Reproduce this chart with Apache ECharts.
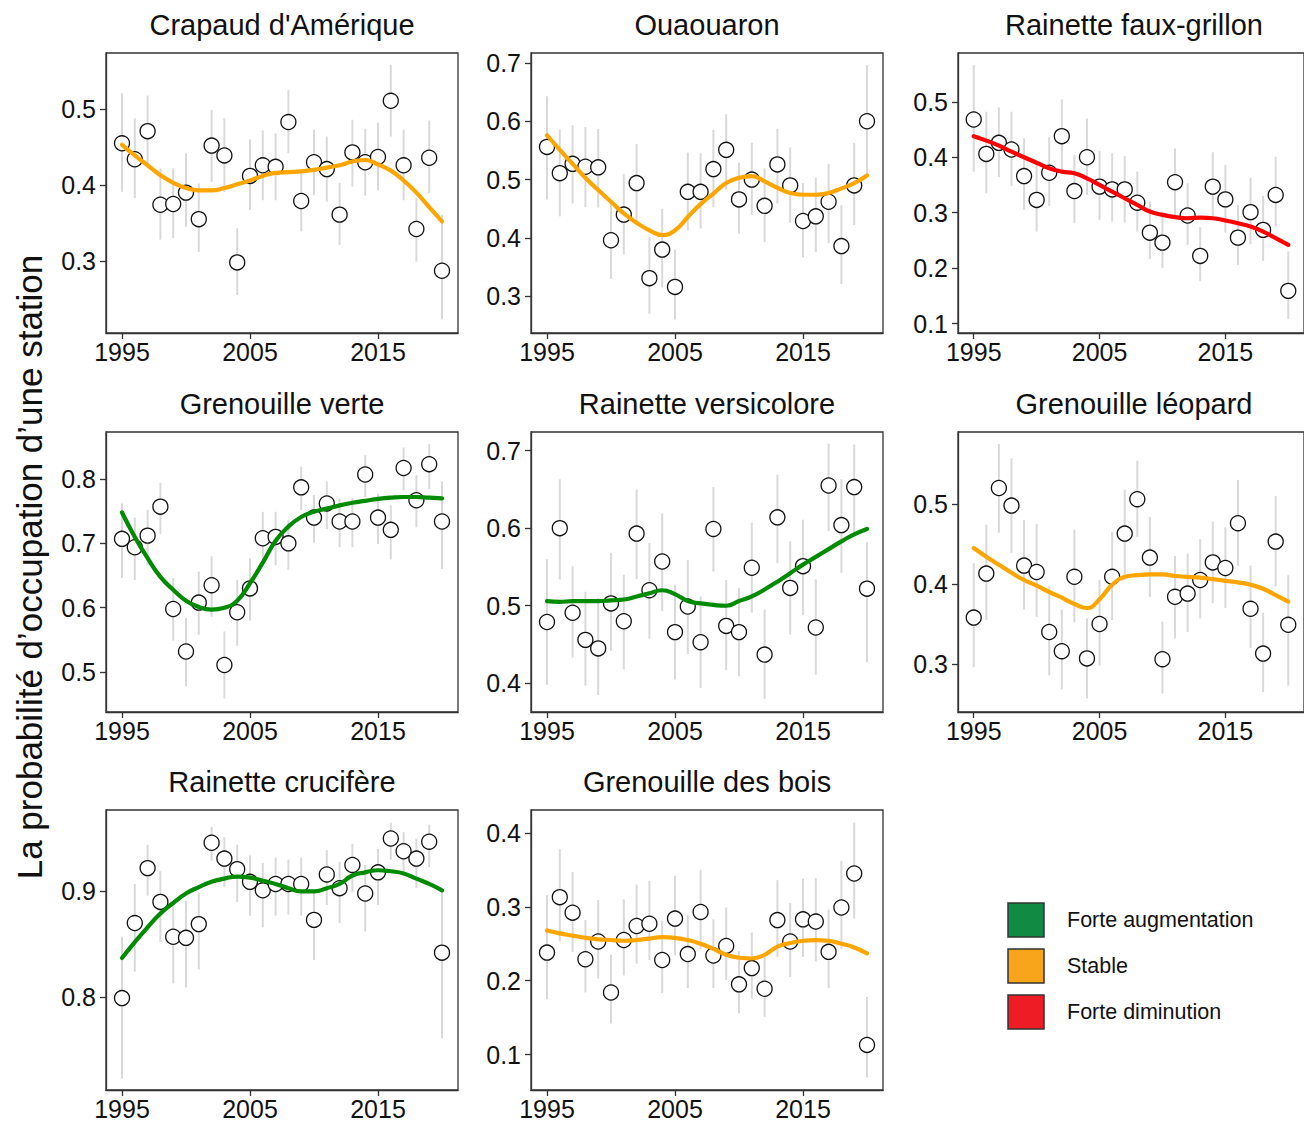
<!DOCTYPE html>
<html>
<head>
<meta charset="utf-8">
<script src="https://cdn.jsdelivr.net/npm/echarts@6/dist/echarts.min.js"></script>
<style>
html,body{margin:0;padding:0;background:#fff;}
#chart{width:1304px;height:1124px;}
</style>
</head>
<body>
<div id="chart"></div>
<script>
// ---------- DATA ----------
const years = [1995,1996,1997,1998,1999,2000,2001,2002,2003,2004,2005,2006,2007,2008,2009,2010,2011,2012,2013,2014,2015,2016,2017,2018,2019,2020];
const xTicks = [1995, 2005, 2015];

const legendLabels = ["Forte augmentation", "Stable", "Forte diminution"];

// Crapaud d'Amérique
const crapaudPts = [0.455,0.434,0.471,0.374,0.375,0.390,0.355,0.452,0.439,0.298,0.412,0.426,0.424,0.483,0.379,0.430,0.421,0.361,0.443,0.430,0.437,0.511,0.426,0.342,0.436,0.287];
const crapaudLo  = [0.391,0.383,0.424,0.328,0.330,0.345,0.312,0.404,0.391,0.255,0.367,0.380,0.380,0.442,0.339,0.387,0.378,0.321,0.398,0.386,0.393,0.464,0.380,0.299,0.389,0.223];
const crapaudHi  = [0.521,0.488,0.518,0.422,0.422,0.442,0.402,0.499,0.488,0.343,0.460,0.472,0.468,0.525,0.420,0.473,0.464,0.403,0.486,0.474,0.482,0.558,0.473,0.383,0.485,0.361];
const crapaudFit = [0.453,0.439,0.426,0.413,0.403,0.396,0.393,0.393,0.396,0.401,0.406,0.412,0.416,0.417,0.418,0.420,0.423,0.426,0.431,0.433,0.427,0.419,0.406,0.390,0.371,0.352];

// Ouaouaron
const ouaouaronPts = [0.556,0.511,0.527,0.522,0.521,0.396,0.440,0.494,0.331,0.380,0.316,0.479,0.479,0.518,0.551,0.466,0.500,0.455,0.526,0.490,0.429,0.437,0.462,0.386,0.490,0.600];
const ouaouaronLo  = [0.466,0.437,0.459,0.453,0.452,0.330,0.372,0.429,0.270,0.315,0.260,0.413,0.416,0.453,0.483,0.407,0.439,0.393,0.459,0.426,0.367,0.376,0.391,0.321,0.422,0.506];
const ouaouaronHi  = [0.643,0.586,0.593,0.590,0.587,0.465,0.510,0.561,0.402,0.450,0.380,0.546,0.545,0.585,0.612,0.529,0.563,0.519,0.587,0.555,0.494,0.503,0.527,0.456,0.563,0.696];
const ouaouaronFit = [0.576,0.551,0.527,0.503,0.482,0.462,0.442,0.426,0.413,0.405,0.413,0.436,0.458,0.476,0.494,0.503,0.506,0.497,0.486,0.477,0.474,0.474,0.477,0.485,0.494,0.507];

// Rainette faux-grillon
const fauxGrillonPts = [0.468,0.406,0.426,0.414,0.366,0.323,0.372,0.438,0.339,0.400,0.347,0.342,0.342,0.318,0.264,0.246,0.355,0.295,0.222,0.347,0.324,0.255,0.301,0.269,0.332,0.159];
const fauxGrillonLo  = [0.374,0.335,0.364,0.348,0.305,0.266,0.312,0.371,0.281,0.332,0.287,0.284,0.282,0.266,0.216,0.200,0.293,0.242,0.177,0.287,0.264,0.206,0.243,0.213,0.275,0.108];
const fauxGrillonHi  = [0.566,0.482,0.490,0.482,0.434,0.389,0.437,0.504,0.404,0.470,0.411,0.407,0.402,0.374,0.320,0.302,0.416,0.353,0.274,0.409,0.386,0.314,0.363,0.330,0.401,0.230];
const fauxGrillonFit = [0.438,0.430,0.421,0.410,0.400,0.390,0.380,0.374,0.371,0.362,0.350,0.338,0.326,0.314,0.302,0.296,0.292,0.290,0.291,0.290,0.286,0.281,0.275,0.266,0.254,0.242];

// Grenouille verte
const vertePts = [0.707,0.694,0.712,0.757,0.598,0.532,0.608,0.635,0.511,0.593,0.630,0.708,0.710,0.700,0.787,0.740,0.762,0.734,0.734,0.807,0.740,0.721,0.817,0.767,0.823,0.734];
const verteLo  = [0.646,0.643,0.666,0.714,0.549,0.478,0.558,0.586,0.459,0.541,0.580,0.672,0.666,0.659,0.752,0.701,0.722,0.694,0.694,0.772,0.699,0.675,0.782,0.725,0.784,0.660];
const verteHi  = [0.762,0.740,0.752,0.794,0.646,0.584,0.656,0.680,0.563,0.643,0.677,0.749,0.749,0.736,0.819,0.775,0.796,0.770,0.770,0.837,0.777,0.759,0.849,0.806,0.854,0.796];
const verteFit = [0.748,0.710,0.677,0.648,0.628,0.611,0.601,0.597,0.600,0.611,0.638,0.670,0.704,0.726,0.741,0.749,0.754,0.759,0.763,0.766,0.769,0.771,0.772,0.772,0.771,0.770];

// Rainette versicolore
const versicolorePts = [0.479,0.600,0.491,0.456,0.445,0.503,0.480,0.593,0.520,0.557,0.466,0.499,0.453,0.599,0.474,0.466,0.549,0.437,0.614,0.523,0.551,0.472,0.655,0.604,0.653,0.522];
const versicoloreLo  = [0.398,0.534,0.433,0.397,0.385,0.442,0.418,0.534,0.458,0.493,0.405,0.438,0.394,0.544,0.417,0.409,0.491,0.380,0.555,0.463,0.488,0.411,0.596,0.542,0.590,0.427];
const versicoloreHi  = [0.560,0.663,0.551,0.518,0.510,0.568,0.540,0.650,0.581,0.619,0.527,0.559,0.512,0.653,0.533,0.523,0.607,0.495,0.669,0.583,0.611,0.534,0.709,0.663,0.708,0.582];
const versicoloreFit = [0.506,0.505,0.506,0.506,0.506,0.507,0.508,0.512,0.516,0.520,0.515,0.506,0.503,0.501,0.500,0.506,0.512,0.521,0.531,0.542,0.553,0.563,0.573,0.583,0.592,0.599];

// Grenouille léopard
const leopardPts = [0.358,0.413,0.520,0.498,0.423,0.415,0.340,0.316,0.409,0.307,0.350,0.409,0.463,0.506,0.433,0.306,0.384,0.388,0.405,0.427,0.420,0.476,0.369,0.313,0.453,0.349];
const leopardLo  = [0.296,0.355,0.464,0.439,0.368,0.359,0.286,0.268,0.352,0.257,0.298,0.355,0.405,0.459,0.384,0.263,0.332,0.340,0.357,0.376,0.370,0.423,0.320,0.265,0.397,0.273];
const leopardHi  = [0.426,0.474,0.575,0.557,0.480,0.475,0.397,0.368,0.468,0.357,0.405,0.465,0.518,0.554,0.484,0.353,0.435,0.438,0.456,0.478,0.471,0.530,0.423,0.364,0.510,0.411];
const leopardFit = [0.445,0.434,0.424,0.414,0.405,0.398,0.390,0.383,0.375,0.370,0.381,0.399,0.409,0.411,0.412,0.412,0.410,0.409,0.408,0.406,0.404,0.402,0.399,0.394,0.386,0.378];

// Rainette crucifère
const cruciferePts = [0.799,0.870,0.922,0.890,0.857,0.856,0.869,0.946,0.931,0.921,0.909,0.901,0.907,0.907,0.907,0.873,0.916,0.903,0.925,0.898,0.918,0.950,0.938,0.931,0.947,0.842];
const crucifereLo  = [0.723,0.824,0.896,0.852,0.813,0.809,0.826,0.929,0.904,0.890,0.877,0.866,0.877,0.878,0.877,0.835,0.887,0.870,0.899,0.862,0.887,0.930,0.917,0.903,0.923,0.761];
const crucifereHi  = [0.857,0.907,0.944,0.919,0.890,0.891,0.899,0.961,0.951,0.944,0.934,0.927,0.932,0.930,0.932,0.899,0.939,0.928,0.945,0.925,0.940,0.965,0.956,0.950,0.963,0.901];
const crucifereFit = [0.837,0.852,0.866,0.879,0.889,0.898,0.904,0.909,0.912,0.914,0.913,0.910,0.907,0.903,0.900,0.900,0.903,0.907,0.915,0.918,0.920,0.919,0.917,0.912,0.907,0.901];

// Grenouille des bois
const boisPts = [0.238,0.313,0.292,0.229,0.253,0.184,0.255,0.274,0.277,0.228,0.284,0.236,0.293,0.234,0.247,0.195,0.217,0.189,0.282,0.253,0.283,0.280,0.239,0.299,0.345,0.113];
const boisLo  = [0.175,0.253,0.239,0.184,0.203,0.142,0.207,0.223,0.228,0.183,0.234,0.190,0.243,0.190,0.201,0.156,0.176,0.151,0.232,0.205,0.232,0.226,0.190,0.243,0.284,0.069];
const boisHi  = [0.316,0.378,0.347,0.282,0.309,0.235,0.310,0.330,0.335,0.281,0.342,0.289,0.350,0.283,0.299,0.240,0.265,0.232,0.336,0.305,0.338,0.339,0.296,0.362,0.414,0.178];
const boisFit = [0.268,0.264,0.261,0.258,0.256,0.255,0.254,0.255,0.257,0.259,0.258,0.255,0.250,0.243,0.235,0.231,0.230,0.235,0.246,0.251,0.254,0.255,0.254,0.250,0.245,0.237];

// y-axis ranges and ticks per panel
const crapaudRange = [0.205, 0.574],  crapaudTicks = [0.3, 0.4, 0.5];
const ouaouaronRange = [0.237, 0.717], ouaouaronTicks = [0.3, 0.4, 0.5, 0.6, 0.7];
const fauxGrillonRange = [0.083, 0.588], fauxGrillonTicks = [0.1, 0.2, 0.3, 0.4, 0.5];
const verteRange = [0.438, 0.873], verteTicks = [0.5, 0.6, 0.7, 0.8];
const versicoloreRange = [0.363, 0.724], versicoloreTicks = [0.4, 0.5, 0.6, 0.7];
const leopardRange = [0.240, 0.590], leopardTicks = [0.3, 0.4, 0.5];
const crucifereRange = [0.712, 0.977], crucifereTicks = [0.8, 0.9];
const boisRange = [0.052, 0.431], boisTicks = [0.1, 0.2, 0.3, 0.4];

// ---------- STYLE ----------
const LINE_COL = { up: '#008B00', stable: '#FFA500', down: '#FF0000' };
const LEGEND_COL = ['#118A43', '#F8A51C', '#EE1C24'];
const FONT = "'Liberation Sans', Arial, Helvetica, sans-serif";
const TXT = '#111111';

const panels = [
  { title: "Crapaud d'Amérique", pts: crapaudPts, lo: crapaudLo, hi: crapaudHi, fit: crapaudFit, col: LINE_COL.stable, range: crapaudRange, ticks: crapaudTicks },
  { title: "Ouaouaron", pts: ouaouaronPts, lo: ouaouaronLo, hi: ouaouaronHi, fit: ouaouaronFit, col: LINE_COL.stable, range: ouaouaronRange, ticks: ouaouaronTicks },
  { title: "Rainette faux-grillon", pts: fauxGrillonPts, lo: fauxGrillonLo, hi: fauxGrillonHi, fit: fauxGrillonFit, col: LINE_COL.down, range: fauxGrillonRange, ticks: fauxGrillonTicks },
  { title: "Grenouille verte", pts: vertePts, lo: verteLo, hi: verteHi, fit: verteFit, col: LINE_COL.up, range: verteRange, ticks: verteTicks },
  { title: "Rainette versicolore", pts: versicolorePts, lo: versicoloreLo, hi: versicoloreHi, fit: versicoloreFit, col: LINE_COL.up, range: versicoloreRange, ticks: versicoloreTicks },
  { title: "Grenouille léopard", pts: leopardPts, lo: leopardLo, hi: leopardHi, fit: leopardFit, col: LINE_COL.stable, range: leopardRange, ticks: leopardTicks },
  { title: "Rainette crucifère", pts: cruciferePts, lo: crucifereLo, hi: crucifereHi, fit: crucifereFit, col: LINE_COL.up, range: crucifereRange, ticks: crucifereTicks },
  { title: "Grenouille des bois", pts: boisPts, lo: boisLo, hi: boisHi, fit: boisFit, col: LINE_COL.stable, range: boisRange, ticks: boisTicks }
];

const colLeft = [106, 531, 958];
const rowTop = [53, 432, 810];
const W = 352, H = 280;

const grids = [], xAxes = [], yAxes = [], series = [], graphics = [];

panels.forEach((p, i) => {
  const c = i % 3, r = Math.floor(i / 3);
  grids.push({ left: colLeft[c], top: rowTop[r], width: W, height: H, show: true,
    borderColor: '#333', borderWidth: 1.3, backgroundColor: 'transparent', containLabel: false });
  xAxes.push({
    gridIndex: i, type: 'value', min: 1993.75, max: 2021.25,
    axisLine: { show: true, onZero: false, lineStyle: { color: '#333', width: 1.3 } },
    axisTick: { show: true, length: 6, customValues: xTicks, lineStyle: { color: '#333', width: 1.3 } },
    axisLabel: { customValues: xTicks, fontSize: 25, fontFamily: FONT, color: TXT, margin: 6,
      formatter: v => String(Math.round(v)) },
    splitLine: { show: false }
  });
  yAxes.push({
    gridIndex: i, type: 'value', min: p.range[0], max: p.range[1],
    axisLine: { show: true, onZero: false, lineStyle: { color: '#333', width: 1.3 } },
    axisTick: { show: true, length: 6, customValues: p.ticks, lineStyle: { color: '#333', width: 1.3 } },
    axisLabel: { customValues: p.ticks, fontSize: 25, fontFamily: FONT, color: TXT, margin: 10,
      formatter: v => v.toFixed(1) },
    splitLine: { show: false }
  });
  series.push({
    type: 'custom', xAxisIndex: i, yAxisIndex: i, z: 1,
    data: years.map((y, k) => [y, p.lo[k], p.hi[k]]),
    encode: { x: 0, y: [1, 2] },
    renderItem: (params, api) => {
      const x = api.value(0);
      const a = api.coord([x, api.value(1)]);
      const b = api.coord([x, api.value(2)]);
      return { type: 'line', shape: { x1: a[0], y1: a[1], x2: b[0], y2: b[1] },
        style: { stroke: '#D9D9D9', lineWidth: 2 } };
    }
  });
  series.push({
    type: 'scatter', xAxisIndex: i, yAxisIndex: i, z: 2,
    data: years.map((y, k) => [y, p.pts[k]]),
    symbol: 'circle', symbolSize: 15,
    itemStyle: { color: '#ffffff', borderColor: '#111', borderWidth: 1.3, opacity: 1 }
  });
  series.push({
    type: 'line', xAxisIndex: i, yAxisIndex: i, z: 3,
    data: years.map((y, k) => [y, p.fit[k]]),
    smooth: 0.5, showSymbol: false, symbol: 'none',
    lineStyle: { color: p.col, width: 4.2, cap: 'round' }
  });
  graphics.push({
    type: 'text', x: colLeft[c] + W / 2, y: rowTop[r] - 28,
    style: { text: p.title, fontSize: 29, fontFamily: FONT, fill: TXT, textAlign: 'center', textVerticalAlign: 'middle' }
  });
});

// y-axis title
graphics.push({
  type: 'text', x: 29, y: 567, rotation: Math.PI / 2,
  style: { text: "La probabilité d’occupation d’une station", fontSize: 35, fontFamily: FONT, fill: TXT,
    textAlign: 'center', textVerticalAlign: 'middle' }
});

// legend
const legendY = [920, 966, 1012];
legendLabels.forEach((lab, k) => {
  graphics.push({ type: 'rect', shape: { x: 1008, y: legendY[k] - 17, width: 36, height: 34 },
    style: { fill: LEGEND_COL[k], stroke: '#333', lineWidth: 1.5 } });
  graphics.push({ type: 'text', x: 1067, y: legendY[k],
    style: { text: lab, fontSize: 21.5, fontFamily: FONT, fill: TXT, textAlign: 'left', textVerticalAlign: 'middle' } });
});

const chart = echarts.init(document.getElementById('chart'), null, { renderer: 'svg' });
chart.setOption({
  animation: false,
  backgroundColor: '#ffffff',
  grid: grids, xAxis: xAxes, yAxis: yAxes, series: series,
  graphic: graphics
});
</script>
</body>
</html>
